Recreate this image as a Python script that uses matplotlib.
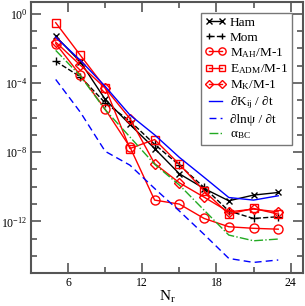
import numpy as np
import matplotlib
matplotlib.use('Agg')
import matplotlib.pyplot as plt
from matplotlib.ticker import FixedLocator, NullFormatter

plt.rcParams['font.family'] = ['Liberation Serif', 'DejaVu Serif']
plt.rcParams['mathtext.fontset'] = 'custom'
plt.rcParams['mathtext.rm'] = 'Liberation Serif'
plt.rcParams['mathtext.it'] = 'Liberation Serif:italic'

# resolution N_r
nr = [5, 7, 9, 11, 13, 15, 17, 19, 21, 23]

# log10 of each quantity
ham = [-1.31, -2.79, -4.95, -6.4, -7.79, -9.25, -10.1, -10.81, -10.48, -10.33]
mom = [-2.75, -3.65, -5.15, -6.2, -7.55, -8.75, -10.04, -11.4, -11.83, -11.73]
m_ah = [-1.73, -3.56, -5.52, -7.7, -10.77, -11.0, -11.83, -12.31, -12.4, -12.45]
e_adm = [-0.52, -2.41, -4.27, -7.79, -7.27, -8.7, -10.24, -11.58, -11.25, -11.58]
m_k = [-1.64, -2.98, -4.3, -6.06, -8.66, -9.77, -10.6, -11.45, -11.29, -11.45]
dk_dt = [-1.35, -2.7, -4.2, -5.85, -7.0, -8.3, -9.45, -10.62, -10.77, -10.52]
dlnpsi_dt = [-3.8, -5.7, -7.95, -8.75, -10.1, -11.4, -12.75, -14.14, -14.37, -14.23]
alpha_bc = [-2.12, -3.6, -5.55, -7.12, -8.7, -9.9, -11.35, -12.79, -13.12, -13.02]

p = lambda v: 10.0 ** np.array(v)

fig = plt.figure(figsize=(3.05, 3.06), dpi=100)
ax = fig.add_axes([0.1016, 0.1068, 0.8918, 0.888])

ax.plot(nr, p(ham), color='black', lw=1, marker='x', ms=5, mew=1, label='Ham')
ax.plot(nr, p(mom), color='black', lw=1, ls='--', marker='+', ms=6, mew=1, label='Mom')
ax.plot(nr, p(m_ah), color='red', lw=1, marker='o', ms=6.5, mfc='none', mew=1,
        label=r'M$_\mathrm{AH}$/M-1')
ax.plot(nr, p(e_adm), color='red', lw=1, marker='s', ms=6, mfc='none', mew=1,
        label=r'E$_\mathrm{ADM}$/M-1')
ax.plot(nr, p(m_k), color='red', lw=1, marker='D', ms=5, mfc='none', mew=1,
        label=r'M$_\mathrm{K}$/M-1')
ax.plot(nr, p(dk_dt), color='blue', lw=1, label='\u2202K$_\\mathrm{ij}$ / \u2202t')
ax.plot(nr, p(dlnpsi_dt), color='blue', lw=1, ls=(0, (5, 3)), label='\u2202ln\u03c8 / \u2202t')
ax.plot(nr, p(alpha_bc), color='#22aa22', lw=1, ls='-.', label='\u03b1$_\\mathrm{BC}$')

ax.set_yscale('log')
ax.set_xlim(3, 25)
ax.set_ylim(1e-15, 5)

ax.set_xticks([6, 12, 18, 24])
ax.xaxis.set_minor_locator(FixedLocator([9, 15, 21]))
ax.set_yticks([1e0, 1e-4, 1e-8, 1e-12])
ax.set_yticklabels(['10$^\\mathrm{0}$', '10$^\\mathrm{-4}$', '10$^\\mathrm{-8}$', '10$^\\mathrm{-12}$'])
ax.yaxis.set_minor_locator(FixedLocator([10.0 ** k for k in range(-15, 1)]))
ax.yaxis.set_minor_formatter(NullFormatter())

ax.tick_params(which='both', direction='in', top=True, right=True, labelsize=8.5,
               color='#555555', width=1.2, pad=2.5)
ax.tick_params(which='major', length=7)
ax.tick_params(which='minor', length=4.5)
for s in ax.spines.values():
    s.set_color('#555555')
    s.set_linewidth(1.5)

ax.set_xlabel('N$_\\mathrm{r}$', fontsize=11, labelpad=0)

leg = ax.legend(loc='upper right', fontsize=9.5, frameon=True, fancybox=False,
                edgecolor='#555555', handlelength=1.6, labelspacing=0.18,
                borderpad=0.3, handletextpad=0.3, borderaxespad=0.85,
                numpoints=2, markerscale=0.8)
leg.get_frame().set_linewidth(1.0)

fig.savefig('out.png', dpi=100)
